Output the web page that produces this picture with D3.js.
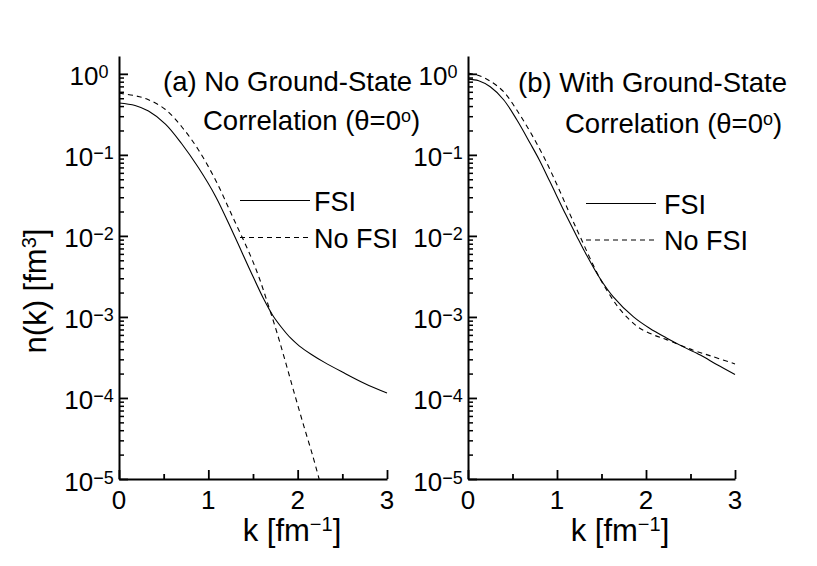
<!DOCTYPE html>
<html lang="en">
<head>
<meta charset="UTF-8">
<title>n(k) momentum distributions</title>
<script src="https://d3js.org/d3.v7.min.js"></script>
<style>
    body { margin: 0; background: #fff; }
    svg text { font-family: "Liberation Sans", Arial, Helvetica, sans-serif; fill: #000; }
    .axis path, .axis line { stroke: #000; }
</style>
</head>
<body>
<div id="chart"></div>
<script>
// values, n(k) in fm^3, k in fm^-1
var aFsiK   = [0, 0.18, 0.33, 0.52, 0.70, 0.89, 1.08, 1.28, 1.47, 1.62, 1.72, 1.82, 1.92, 2.02, 2.15, 2.30, 2.50, 2.75, 3.00];
var aFsiN   = [0.437, 0.407, 0.347, 0.240, 0.138, 0.0692, 0.0309, 0.0107, 3.72e-3, 1.66e-3, 1.05e-3, 7.41e-4, 5.5e-4, 4.37e-4, 3.47e-4, 2.75e-4, 2.09e-4, 1.51e-4, 1.15e-4];
var aNoK    = [0, 0.18, 0.33, 0.52, 0.70, 0.89, 1.08, 1.27, 1.47, 1.57, 1.67, 1.77, 1.87, 1.97, 2.07, 2.17, 2.24];
var aNoN    = [0.575, 0.537, 0.479, 0.363, 0.224, 0.115, 0.049, 0.0174, 5.75e-3, 3.02e-3, 1.41e-3, 6.31e-4, 2.63e-4, 1.07e-4, 4.47e-5, 1.91e-5, 1.0e-5];
var bFsiK   = [0, 0.12, 0.25, 0.40, 0.55, 0.70, 0.80, 0.92, 1.10, 1.22, 1.30, 1.48, 1.63, 1.86, 2.04, 2.23, 2.42, 2.61, 2.80, 3.00];
var bFsiN   = [0.861, 0.822, 0.692, 0.479, 0.269, 0.138, 0.0871, 0.0468, 0.0182, 0.0100, 6.76e-3, 3.02e-3, 1.78e-3, 1.0e-3, 7.24e-4, 5.5e-4, 4.27e-4, 3.39e-4, 2.57e-4, 1.95e-4];
var bNoK    = [0, 0.12, 0.25, 0.40, 0.55, 0.70, 0.85, 1.00, 1.14, 1.26, 1.48, 1.63, 1.71, 1.82, 1.93, 2.08, 2.23, 2.53, 2.75, 3.00];
var bNoN    = [1.023, 0.955, 0.813, 0.603, 0.355, 0.191, 0.0955, 0.0427, 0.0191, 9.77e-3, 3.02e-3, 1.62e-3, 1.23e-3, 9.12e-4, 7.24e-4, 6.03e-4, 5.25e-4, 3.89e-4, 3.24e-4, 2.63e-4];

var kMajor  = [0, 1, 2, 3];
var kMinor  = [0.5, 1.5, 2.5];
var yExps   = [0, -1, -2, -3, -4, -5];
var legendNames = ["FSI", "No FSI"];
var titlesA = ["(a) No Ground-State", "Correlation (\u03b8=0"];
var titlesB = ["(b) With Ground-State", "Correlation (\u03b8=0"];

function zipPts(ks, ns) { return ks.map(function(k, i) { return { k: k, n: ns[i] }; }); }

var svg = d3.select("#chart").append("svg")
    .attr("width", 817).attr("height", 566);

var y = d3.scaleLog().domain([1e-5, 1.66]).range([479, 56]);

var minorY = [];
for (var e = -5; e < 0; e++) {
    for (var m = 2; m <= 9; m++) minorY.push(m * Math.pow(10, e));
}

var panels = [
    { left: 119, right: 387, fsi: zipPts(aFsiK, aFsiN), nofsi: zipPts(aNoK, aNoN),
      titles: titlesA, t1: [163, 91], t2: [203, 130],
      leg: { x1: 240, x2: 310, y1: 200.5, y2: 237.5, tx: 314 }, xlab: 292 },
    { left: 468, right: 735, fsi: zipPts(bFsiK, bFsiN), nofsi: zipPts(bNoK, bNoN),
      titles: titlesB, t1: [518, 92], t2: [565, 133],
      leg: { x1: 586, x2: 656, y1: 203.5, y2: 240, tx: 664 }, xlab: 620 }
];

panels.forEach(function(p) {
    var x = d3.scaleLinear().domain([0, 3]).range([p.left, p.right]);
    var g = svg.append("g");

    // curves
    var line = d3.line().x(function(d) { return x(d.k); }).y(function(d) { return y(d.n); })
        .curve(d3.curveCatmullRom.alpha(0.5));
    g.append("path").datum(p.fsi).attr("d", line)
        .attr("fill", "none").attr("stroke", "#000").attr("stroke-width", 1.1);
    g.append("path").datum(p.nofsi).attr("d", line)
        .attr("fill", "none").attr("stroke", "#000").attr("stroke-width", 1.1)
        .attr("stroke-dasharray", "5,4");

    // y axis, ticks pointing inward
    g.append("g").attr("class", "axis")
        .attr("transform", "translate(" + p.left + ",0)")
        .call(d3.axisLeft(y).tickValues(minorY).tickSize(-5).tickFormat(""))
        .call(function(s) { s.select(".domain").remove(); s.selectAll("line").attr("stroke-width", 1.5); });
    g.append("g").attr("class", "axis")
        .attr("transform", "translate(" + p.left + ",0)")
        .call(d3.axisLeft(y).tickValues(yExps.map(function(e) { return Math.pow(10, e); }))
            .tickSizeInner(-9).tickSizeOuter(0).tickFormat(""))
        .call(function(s) { s.select(".domain").attr("stroke-width", 2); s.selectAll("line").attr("stroke-width", 1.8); });

    // x axis
    g.append("g").attr("class", "axis")
        .attr("transform", "translate(0,479)")
        .call(d3.axisBottom(x).tickValues(kMinor).tickSize(-5).tickFormat(""))
        .call(function(s) { s.select(".domain").remove(); s.selectAll("line").attr("stroke-width", 1.8); });
    g.append("g").attr("class", "axis")
        .attr("transform", "translate(0,479)")
        .call(d3.axisBottom(x).tickValues(kMajor).tickSizeInner(-9).tickSizeOuter(0).tickFormat(""))
        .call(function(s) { s.select(".domain").attr("stroke-width", 2); s.selectAll("line").attr("stroke-width", 1.8); });

    // tick labels
    yExps.forEach(function(e) {
        var t = g.append("text").attr("x", p.left - 30).attr("y", y(Math.pow(10, e)) + 11.5)
            .attr("text-anchor", "middle").style("font-size", "26px");
        t.append("tspan").text("10");
        t.append("tspan").attr("dy", -7).style("font-size", "18px")
            .text(e === 0 ? "0" : "\u2212" + Math.abs(e));
    });
    kMajor.forEach(function(k) {
        g.append("text").attr("x", x(k)).attr("y", 509)
            .attr("text-anchor", "middle").style("font-size", "26px").text(k);
    });

    // x label
    var xl = g.append("text").attr("x", p.xlab).attr("y", 541)
        .attr("text-anchor", "middle").style("font-size", "31px");
    xl.append("tspan").text("k [fm");
    xl.append("tspan").attr("dy", -10).style("font-size", "20px").text("\u22121");
    xl.append("tspan").attr("dy", 10).text("]");

    // annotation
    g.append("text").attr("x", p.t1[0]).attr("y", p.t1[1]).style("font-size", "27.5px").text(p.titles[0]);
    var t2 = g.append("text").attr("x", p.t2[0]).attr("y", p.t2[1]).style("font-size", "27.5px");
    t2.append("tspan").text(p.titles[1]);
    t2.append("tspan").attr("dy", -8).style("font-size", "18px").text("o");
    t2.append("tspan").attr("dy", 8).text(")");

    // legend
    g.append("line").attr("x1", p.leg.x1).attr("x2", p.leg.x2).attr("y1", p.leg.y1).attr("y2", p.leg.y1)
        .attr("stroke", "#000").attr("stroke-width", 1.1);
    g.append("line").attr("x1", p.leg.x1).attr("x2", p.leg.x2).attr("y1", p.leg.y2).attr("y2", p.leg.y2)
        .attr("stroke", "#000").attr("stroke-width", 1.1).attr("stroke-dasharray", "5,4");
    g.append("text").attr("x", p.leg.tx).attr("y", p.leg.y1 + 10).style("font-size", "27px").text(legendNames[0]);
    g.append("text").attr("x", p.leg.tx).attr("y", p.leg.y2 + 10).style("font-size", "27px").text(legendNames[1]);
});

// y axis title
var yl = svg.append("text").attr("transform", "translate(46,291) rotate(-90)")
    .attr("text-anchor", "middle").style("font-size", "31px");
yl.append("tspan").text("n(k) [fm");
yl.append("tspan").attr("dy", -10).style("font-size", "20px").text("3");
yl.append("tspan").attr("dy", 10).text("]");
</script>
</body>
</html>
